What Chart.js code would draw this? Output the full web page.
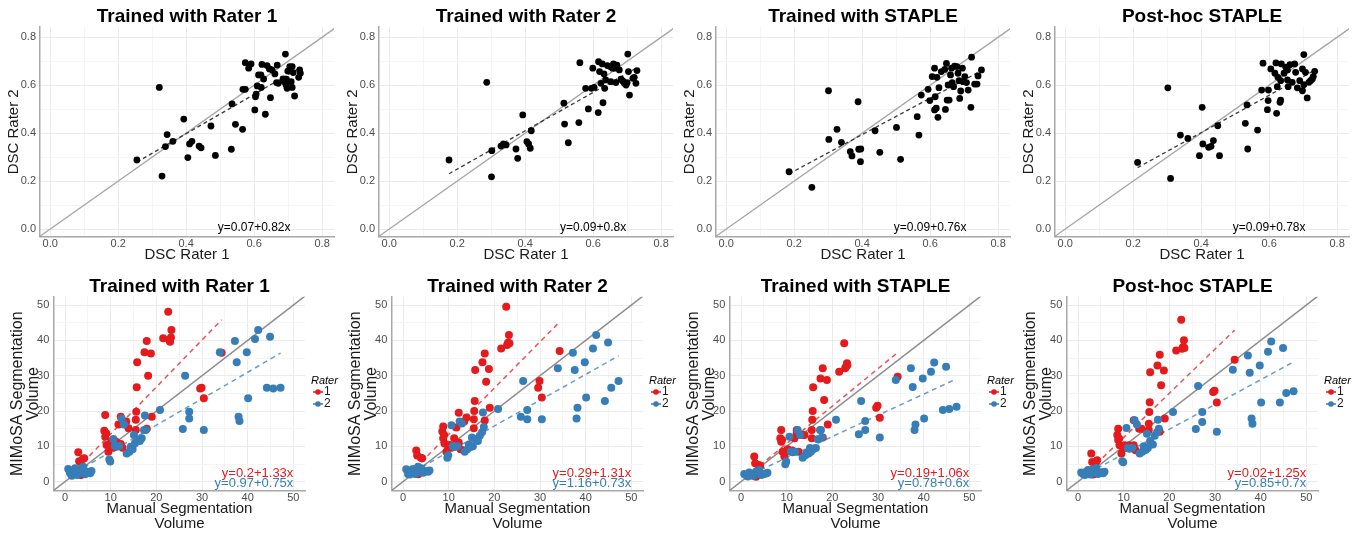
<!DOCTYPE html>
<html>
<head>
<meta charset="utf-8">
<script src="https://cdn.jsdelivr.net/npm/chart.js@4.4.1/dist/chart.umd.min.js"></script>
<style>
  html, body { margin: 0; padding: 0; background: #fff; }
  #wrap { position: relative; width: 1360px; height: 535px; overflow: hidden; }
  #wrap canvas { position: absolute; }
</style>
</head>
<body>
<div id="wrap"></div>
<script>
// titles and ticks
const panelTitles = ['Trained with Rater 1', 'Trained with Rater 2', 'Trained with STAPLE', 'Post-hoc STAPLE'];
const dscTicks = ['0.0', '0.2', '0.4', '0.6', '0.8'];
const volTicks = ['0', '10', '20', '30', '40', '50'];
const raterLabels = ['1', '2'];

// top row: DSC against rater 1 (x) and rater 2 (y)
const trainedR1_dsc1 = [0.255,0.321,0.329,0.339,0.344,0.361,0.393,0.405,0.41,0.417,0.438,0.444,0.473,0.486,0.533,0.535,0.545,0.566,0.567,0.574,0.574,0.584,0.591,0.604,0.606,0.602,0.609,0.613,0.62,0.621,0.623,0.628,0.633,0.638,0.645,0.648,0.653,0.661,0.666,0.668,0.671,0.685,0.689,0.692,0.694,0.697,0.699,0.705,0.709,0.712,0.715,0.719,0.731,0.734,0.736,0.712,0.695];
const trainedR1_dsc2 = [0.288,0.591,0.221,0.344,0.394,0.366,0.459,0.298,0.355,0.366,0.346,0.339,0.43,0.307,0.333,0.522,0.437,0.416,0.583,0.583,0.694,0.671,0.689,0.552,0.563,0.497,0.597,0.643,0.643,0.591,0.687,0.626,0.479,0.682,0.668,0.548,0.664,0.647,0.611,0.684,0.608,0.626,0.615,0.73,0.601,0.587,0.659,0.678,0.615,0.591,0.653,0.555,0.633,0.664,0.65,0.678,0.625];

const trainedR2_dsc1 = [0.176,0.287,0.301,0.302,0.329,0.336,0.344,0.373,0.378,0.393,0.405,0.41,0.415,0.418,0.514,0.516,0.527,0.558,0.561,0.578,0.586,0.595,0.599,0.603,0.615,0.616,0.619,0.623,0.627,0.629,0.632,0.634,0.637,0.642,0.65,0.652,0.657,0.66,0.664,0.667,0.67,0.677,0.687,0.692,0.697,0.702,0.7,0.704,0.707,0.717,0.721,0.729,0.726,0.682];
const trainedR2_dsc2 = [0.288,0.612,0.218,0.327,0.346,0.355,0.351,0.334,0.295,0.476,0.365,0.355,0.337,0.41,0.525,0.438,0.36,0.444,0.694,0.587,0.501,0.587,0.671,0.591,0.486,0.698,0.657,0.608,0.689,0.527,0.647,0.587,0.622,0.682,0.678,0.615,0.671,0.689,0.671,0.611,0.684,0.664,0.618,0.608,0.601,0.73,0.611,0.657,0.559,0.629,0.633,0.661,0.608,0.625];

const staple_dsc1 = [0.185,0.252,0.301,0.302,0.326,0.339,0.365,0.37,0.388,0.39,0.396,0.395,0.438,0.452,0.501,0.513,0.562,0.567,0.574,0.594,0.599,0.606,0.613,0.615,0.613,0.618,0.62,0.623,0.626,0.633,0.643,0.645,0.648,0.65,0.653,0.656,0.66,0.663,0.665,0.669,0.672,0.679,0.682,0.685,0.687,0.69,0.695,0.697,0.702,0.707,0.712,0.72,0.722,0.731,0.738,0.741,0.751];
const staple_dsc2 = [0.239,0.174,0.577,0.374,0.416,0.362,0.323,0.305,0.531,0.333,0.334,0.281,0.41,0.32,0.424,0.291,0.469,0.392,0.559,0.583,0.536,0.636,0.671,0.552,0.497,0.504,0.633,0.466,0.59,0.657,0.666,0.499,0.691,0.538,0.601,0.538,0.643,0.671,0.611,0.594,0.68,0.678,0.65,0.619,0.545,0.576,0.671,0.615,0.636,0.611,0.58,0.508,0.717,0.605,0.605,0.639,0.664];

const posthoc_dsc1 = [0.213,0.302,0.31,0.339,0.361,0.395,0.403,0.405,0.422,0.429,0.436,0.449,0.454,0.53,0.535,0.537,0.566,0.578,0.582,0.595,0.597,0.598,0.605,0.617,0.62,0.622,0.624,0.626,0.632,0.634,0.634,0.636,0.644,0.649,0.654,0.654,0.656,0.661,0.668,0.675,0.678,0.683,0.69,0.698,0.698,0.702,0.702,0.707,0.712,0.717,0.727,0.73,0.734,0.722];
const posthoc_dsc2 = [0.278,0.589,0.211,0.392,0.378,0.306,0.508,0.355,0.341,0.345,0.369,0.431,0.306,0.441,0.518,0.334,0.413,0.58,0.692,0.498,0.536,0.58,0.668,0.65,0.693,0.483,0.594,0.633,0.529,0.538,0.619,0.689,0.65,0.675,0.664,0.622,0.594,0.686,0.612,0.689,0.654,0.589,0.619,0.668,0.577,0.728,0.602,0.654,0.547,0.612,0.626,0.636,0.658,0.619];

// intercept, slope of the dashed fits
const dscFits = [[0.07, 0.82], [0.09, 0.8], [0.09, 0.76], [0.09, 0.78]];

// bottom row: manual volume (x) per rater, MIMoSA volume (y) per panel
const manualR1 = [2.6,2.9,3.1,3.3,3.5,3.6,3.9,4.2,8.6,8.8,8.8,9.0,9.1,9.5,9.9,10.2,10.6,11.2,11.7,12.2,12.2,12.6,13.4,13.9,15.5,15.5,15.6,15.7,15.8,17.4,17.9,17.9,18.2,18.8,19.0,21.5,22.6,22.8,23.0,23.2,23.3,29.6,29.9,30.4,34.3];
const manualR2 = [0.7,1.1,1.5,1.8,2.2,2.7,3.3,3.9,4.0,4.4,4.9,5.5,5.8,9.7,9.9,10.6,10.9,11.3,11.9,12.4,12.9,13.5,14.1,14.4,14.8,15.1,15.3,15.8,16.4,16.8,17.3,17.7,17.5,20.8,25.8,26.3,27.2,27.2,30.4,33.9,37.2,37.6,38.0,38.2,39.8,40.1,41.6,42.3,44.2,44.9,45.6,47.2];

const volR1_trainedR1 = [2.4,8.3,5.8,1.9,1.9,3.3,6.4,6.6,14.4,18.9,12.7,13.7,10.4,8.5,10.8,11.5,9.6,11.3,16.2,18.4,10.7,9.6,17.0,15.1,14.6,17.5,19.8,26.7,33.8,36.6,39.8,15.0,30.0,36.3,18.4,40.6,48.1,40.1,39.6,40.8,42.9,26.4,26.6,23.6,36.5];
const volR1_trainedR2 = [2.6,8.8,7.4,2.1,2.4,3.6,6.8,6.6,14.2,15.6,12.3,13.2,10.8,8.5,9.6,10.4,9.6,12.3,15.3,19.5,11.1,9.2,17.0,18.2,15.1,17.7,20.0,22.8,31.6,33.8,36.3,17.3,28.3,31.9,20.9,37.7,49.5,38.7,39.3,41.5,39.2,26.6,28.5,23.8,37.0];
const volR1_staple = [2.0,7.1,5.2,1.4,1.8,3.0,4.7,4.5,12.3,14.6,11.3,11.8,8.5,7.1,8.5,9.2,8.7,8.8,12.3,14.6,13.7,8.5,13.2,13.2,12.3,14.6,17.5,20.0,26.7,29.2,32.1,12.5,23.1,28.8,16.2,31.1,39.2,32.1,32.5,33.5,33.0,20.9,21.5,18.1,29.7];
const volR1_posthoc = [2.5,8.0,5.6,2.0,2.2,3.2,5.6,6.1,13.2,15.0,11.8,12.2,10.3,8.0,9.6,10.3,9.5,10.3,9.9,17.4,10.3,8.9,15.0,15.0,14.6,16.4,19.7,22.5,31.0,32.9,35.9,14.1,27.3,31.5,17.9,37.1,45.8,37.6,38.1,40.0,37.8,25.4,25.7,22.4,34.5];

const volR2_trainedR1 = [3.6,2.4,1.7,3.0,3.8,1.9,3.6,2.6,4.2,2.1,2.8,2.4,3.0,6.3,5.7,12.1,10.2,9.9,10.1,17.9,16.2,8.0,8.5,9.9,9.2,13.2,10.8,11.8,11.5,12.3,14.6,14.6,18.7,20.3,14.9,30.0,19.8,17.9,14.6,36.6,39.8,33.8,18.4,17.2,36.6,23.6,40.4,42.9,26.6,41.0,26.4,26.6];
const volR2_trainedR2 = [3.5,2.2,2.0,3.2,3.6,2.2,4.2,2.8,3.8,2.5,3.0,2.8,3.2,6.8,7.5,16.0,10.0,9.8,10.0,17.0,16.5,8.5,9.2,10.5,9.8,12.5,10.0,12.0,11.5,13.0,14.0,15.5,19.6,20.6,18.4,28.5,20.3,17.7,17.7,32.1,36.5,31.6,17.9,20.9,33.8,23.8,37.7,41.5,22.8,39.4,26.6,28.5];
const volR2_staple = [2.2,1.8,1.5,2.6,2.0,1.6,2.9,2.4,3.3,1.9,2.1,2.3,2.5,4.9,5.7,12.7,8.5,8.3,8.5,14.6,13.2,6.8,7.5,8.2,8.0,9.5,8.5,9.2,9.5,12.0,14.6,12.5,14.6,17.5,13.4,22.8,17.2,14.6,12.5,28.8,32.1,26.8,14.6,16.2,29.2,17.9,31.1,33.7,20.3,32.5,20.6,21.2];
const volR2_posthoc = [2.6,2.2,1.9,2.8,3.3,2.0,3.5,2.5,3.9,2.2,2.7,2.4,2.8,5.8,5.5,15.2,9.5,9.3,9.5,17.4,16.2,8.0,8.5,10.0,9.0,13.6,9.5,11.5,10.5,13.0,14.0,15.0,17.5,19.7,14.9,27.1,19.7,16.9,14.1,31.7,35.7,30.8,17.9,16.4,32.9,22.4,36.8,39.7,22.4,37.8,25.1,25.6];

const volFitsR1 = [[0.2, 1.33], [0.29, 1.31], [0.19, 1.06], [0.02, 1.25]];
const volFitsR2 = [[0.97, 0.75], [1.16, 0.73], [0.78, 0.6], [0.85, 0.7]];

// axis limits (ggplot expanded ranges)
const dscXLim = [-0.03, 0.835];
const dscYLim = [-0.032, 0.843];
const volXLim = [-2.41, 52.55];
const volYLim = [-2.55, 52.35];

const FONT = "'Liberation Sans', Arial, sans-serif";
const RED = '#e41a1c';
const BLUE = '#377eb8';
Chart.defaults.font.family = FONT;

function pairs(xs, ys) {
  return xs.map((x, i) => ({ x: x, y: ys[i] }));
}

function fitLine(xs, fit) {
  const lo = Math.min(...xs), hi = Math.max(...xs);
  return [{ x: lo, y: fit[0] + fit[1] * lo }, { x: hi, y: fit[0] + fit[1] * hi }];
}

function fitLabel(fit) {
  return 'y=' + fit[0] + '+' + fit[1] + 'x';
}

function identity(xl, yl) {
  const lo = Math.min(xl[0], yl[0]), hi = Math.max(xl[1], yl[1]);
  return [{ x: lo, y: lo }, { x: hi, y: hi }];
}

// draws panel title, fit equations and the Rater legend
const panelDeco = {
  id: 'panelDeco',
  afterDraw(chart, args, opts) {
    const { ctx, chartArea: a } = chart;
    const sx = chart.scales.x, sy = chart.scales.y;
    ctx.save();
    ctx.textBaseline = 'middle';
    ctx.fillStyle = '#000';
    ctx.textAlign = 'center';
    ctx.font = 'bold 19px ' + FONT;
    ctx.fillText(opts.title, (a.left + a.right) / 2, opts.titleY);

    opts.labels.forEach(l => {
      ctx.font = l.size + 'px ' + FONT;
      ctx.fillStyle = l.color;
      ctx.textAlign = l.align;
      ctx.fillText(l.text, sx.getPixelForValue(l.x), sy.getPixelForValue(l.y) + l.dy);
    });

    if (opts.legend) {
      const lx = a.right;
      ctx.textAlign = 'left';
      ctx.fillStyle = '#000';
      ctx.font = 'italic 11px ' + FONT;
      ctx.fillText('Rater', lx + 6, 116);
      opts.legend.forEach((g, i) => {
        const cy = 127 + i * 12;
        ctx.strokeStyle = g.color;
        ctx.lineWidth = 1.5;
        ctx.beginPath();
        ctx.moveTo(lx + 8, cy);
        ctx.lineTo(lx + 18, cy);
        ctx.stroke();
        ctx.fillStyle = g.color;
        ctx.beginPath();
        ctx.arc(lx + 13, cy, 2.8, 0, Math.PI * 2);
        ctx.fill();
        ctx.fillStyle = '#1a1a1a';
        ctx.font = '12px ' + FONT;
        ctx.fillText(g.label, lx + 19, cy);
      });
    }
    ctx.restore();
  }
};

function axis(tickLabels, lim, size, title) {
  const major = tickLabels.map(Number);
  const minor = major.slice(1).map((v, i) => (v + major[i]) / 2);
  const all = major.concat(minor).sort((p, q) => p - q);
  return {
    type: 'linear',
    min: lim[0],
    max: lim[1],
    afterBuildTicks: s => { s.ticks = all.map(v => ({ value: v })); },
    afterFit: s => { if (s.isHorizontal()) s.height = size; else s.width = size; },
    ticks: {
      autoSkip: false,
      maxRotation: 0,
      color: '#4d4d4d',
      font: { size: 11 },
      padding: title.tickPad,
      callback: v => {
        const i = major.indexOf(v);
        return i >= 0 ? tickLabels[i] : '';
      }
    },
    grid: {
      drawTicks: false,
      lineWidth: 1,
      color: c => (c.tick && major.indexOf(c.tick.value) >= 0) ? '#ebebeb' : '#f5f5f5'
    },
    border: { display: true, color: '#a8a8a8', width: 1.5 },
    title: {
      display: true,
      text: title.text,
      color: '#1a1a1a',
      font: { size: title.size, lineHeight: title.lh },
      padding: title.pad
    }
  };
}

function makeCanvas(left, top, w, h) {
  const c = document.createElement('canvas');
  c.width = w;
  c.height = h;
  c.style.left = left + 'px';
  c.style.top = top + 'px';
  c.style.width = w + 'px';
  c.style.height = h + 'px';
  document.getElementById('wrap').appendChild(c);
  return c;
}

const baseOptions = {
  responsive: false,
  animation: false,
  devicePixelRatio: 1,
  events: []
};

// ---- top row ----
const dscX = [trainedR1_dsc1, trainedR2_dsc1, staple_dsc1, posthoc_dsc1];
const dscY = [trainedR1_dsc2, trainedR2_dsc2, staple_dsc2, posthoc_dsc2];
const topLefts = [0, 339, 676, 1015];

dscX.forEach((xs, p) => {
  const ys = dscY[p];
  new Chart(makeCanvas(topLefts[p], 0, 339, 265), {
    type: 'scatter',
    data: {
      datasets: [
        { data: pairs(xs, ys), pointRadius: 3.4, pointBackgroundColor: '#000', pointBorderWidth: 0 },
        { data: fitLine(xs, dscFits[p]), showLine: true, pointRadius: 0, borderColor: '#3a3a3a', borderWidth: 1.3, borderDash: [4, 3] },
        { data: identity(dscXLim, dscYLim), showLine: true, pointRadius: 0, borderColor: '#a5a5a5', borderWidth: 1.3 }
      ]
    },
    options: Object.assign({}, baseOptions, {
      layout: { padding: { top: 27, right: 5, left: 0, bottom: 0 } },
      plugins: {
        legend: { display: false },
        tooltip: { enabled: false },
        panelDeco: {
          title: panelTitles[p],
          titleY: 17,
          labels: [{ text: fitLabel(dscFits[p]), x: 0.6, y: 0, dy: -1.5, color: '#000', size: 12, align: 'center' }]
        }
      },
      scales: {
        x: axis(dscTicks, dscXLim, 28.3, { text: 'DSC Rater 1', size: 15, lh: 1, pad: { top: 0, bottom: 2.5 }, tickPad: 0.7 }),
        y: axis(dscTicks, dscYLim, 40, { text: 'DSC Rater 2', size: 15, lh: 1, pad: { top: 6.5, bottom: 0 }, tickPad: 4 })
      }
    }),
    plugins: [panelDeco]
  });
});

// ---- bottom row ----
const volY1 = [volR1_trainedR1, volR1_trainedR2, volR1_staple, volR1_posthoc];
const volY2 = [volR2_trainedR1, volR2_trainedR2, volR2_staple, volR2_posthoc];
const bottomLefts = [0, 338, 676, 1013];

volY1.forEach((ys1, p) => {
  const ys2 = volY2[p];
  new Chart(makeCanvas(bottomLefts[p], 265, 339, 270), {
    type: 'scatter',
    data: {
      datasets: [
        { data: pairs(manualR2, ys2), pointRadius: 4, pointBackgroundColor: BLUE, pointBorderWidth: 0 },
        { data: pairs(manualR1, ys1), pointRadius: 4, pointBackgroundColor: RED, pointBorderWidth: 0 },
        { data: fitLine(manualR1, volFitsR1[p]), showLine: true, pointRadius: 0, borderColor: 'rgba(228,26,28,0.75)', borderWidth: 1.5, borderDash: [5, 4] },
        { data: fitLine(manualR2, volFitsR2[p]), showLine: true, pointRadius: 0, borderColor: 'rgba(55,126,184,0.75)', borderWidth: 1.5, borderDash: [5, 4] },
        { data: identity(volXLim, volYLim), showLine: true, pointRadius: 0, borderColor: '#8c8c8c', borderWidth: 1.4 }
      ]
    },
    options: Object.assign({}, baseOptions, {
      layout: { padding: { top: 31.7, right: 34, left: 0, bottom: 0 } },
      plugins: {
        legend: { display: false },
        tooltip: { enabled: false },
        panelDeco: {
          title: panelTitles[p],
          titleY: 21.7,
          labels: [
            { text: fitLabel(volFitsR1[p]), x: 50, y: 2.4, dy: 0, color: RED, size: 13, align: 'right' },
            { text: fitLabel(volFitsR2[p]), x: 50, y: -0.4, dy: 0, color: BLUE, size: 13, align: 'right' }
          ],
          legend: [{ label: raterLabels[0], color: RED }, { label: raterLabels[1], color: BLUE }]
        }
      },
      scales: {
        x: axis(volTicks, volXLim, 44.3, { text: ['Manual Segmentation', 'Volume'], size: 15, lh: 0.95, pad: { top: 0, bottom: 4.3 }, tickPad: 0.5 }),
        y: axis(volTicks, volYLim, 54, { text: ['MIMoSA Segmentation', 'Volume'], size: 16, lh: 0.95, pad: { top: 10.4, bottom: 0 }, tickPad: 4.7 })
      }
    }),
    plugins: [panelDeco]
  });
});
</script>
</body>
</html>
